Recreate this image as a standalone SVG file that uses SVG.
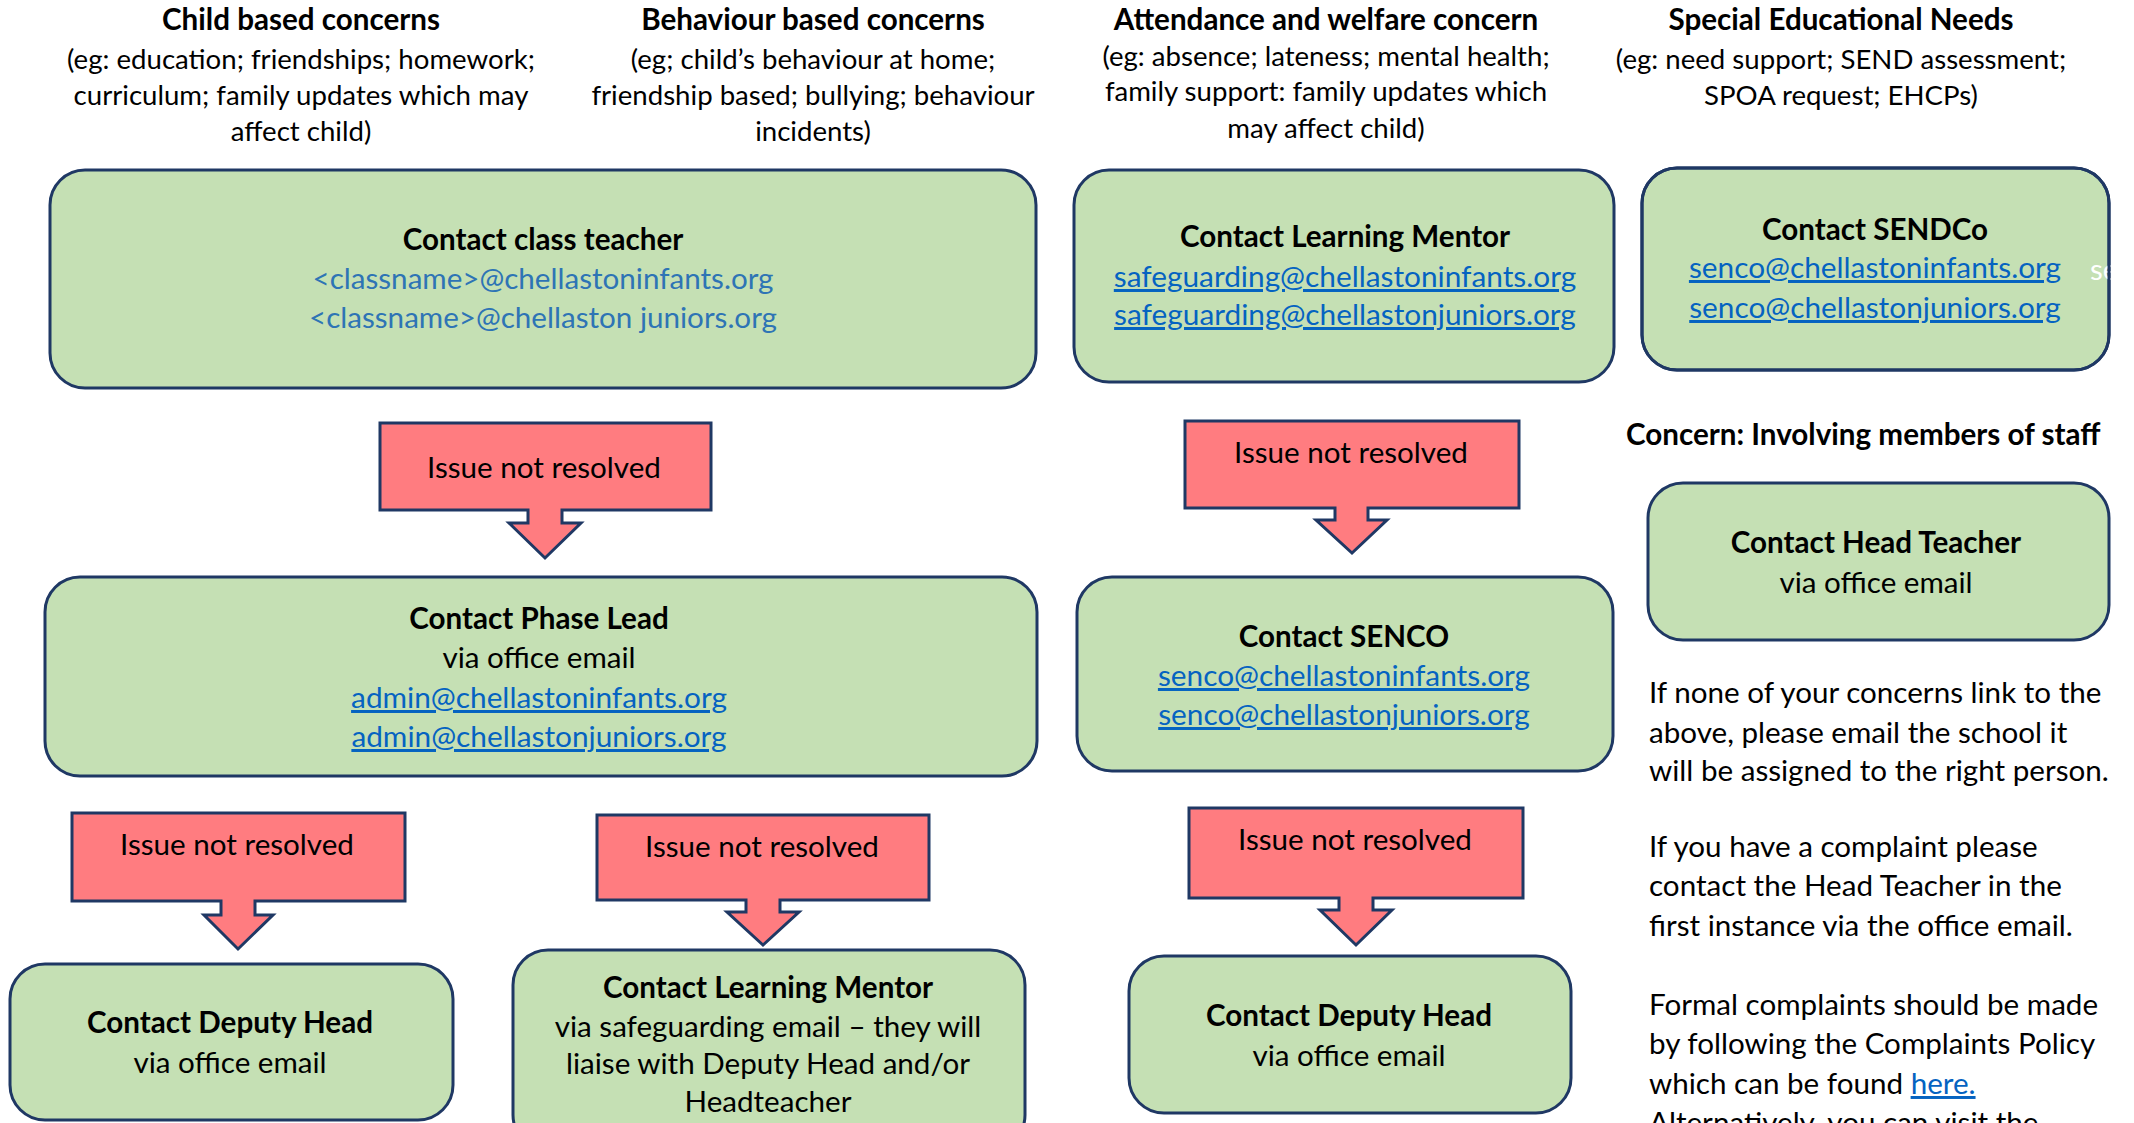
<svg xmlns="http://www.w3.org/2000/svg" width="2134" height="1123" viewBox="0 0 2134 1123">
<style>
text{font-family:Lato,"Liberation Sans",sans-serif;fill:#000}
.h{font-size:29.6px;font-weight:bold;text-anchor:middle}
.d{font-size:27.6px;text-anchor:middle}
.t{font-size:29.6px;text-anchor:middle}
.b{font-size:29.6px;font-weight:bold;text-anchor:middle}
.l{font-size:29.8px;text-anchor:middle;fill:#0563C1;text-decoration:underline}
.c{font-size:29.6px;text-anchor:middle;fill:#2E74B5}
.p{font-size:29.6px}
.box{fill:#C5E0B4;stroke:#1F3864;stroke-width:3}
.arr{fill:#FF7C80;stroke:#1F3864;stroke-width:3;stroke-linejoin:miter}
</style>
<rect width="2134" height="1123" fill="#fff"/>
<g id="headers">
<text class="h" x="301" y="30">Child based concerns</text>
<text class="d" x="301" y="69">(eg: education; friendships; homework;</text>
<text class="d" x="301" y="105">curriculum; family updates which may</text>
<text class="d" x="301" y="141">affect child)</text>
<text class="h" x="813" y="30">Behaviour based concerns</text>
<text class="d" x="813" y="69">(eg; child’s behaviour at home;</text>
<text class="d" x="813" y="105">friendship based; bullying; behaviour</text>
<text class="d" x="813" y="141">incidents)</text>
<text class="h" x="1326" y="30">Attendance and welfare concern</text>
<text class="d" x="1326" y="66">(eg: absence; lateness; mental health;</text>
<text class="d" x="1326" y="101">family support: family updates which</text>
<text class="d" x="1326" y="138">may affect child)</text>
<text class="h" x="1841" y="30">Special Educational Needs</text>
<text class="d" x="1841" y="69">(eg: need support; SEND assessment;</text>
<text class="d" x="1841" y="105">SPOA request; EHCPs)</text>
<text class="p" x="1626" y="445" font-weight="bold">Concern: Involving members of staff</text>
</g>
<g id="n-class-teacher">
<rect class="box" x="50" y="170" width="986" height="218" rx="35"/>
<text class="b" x="543" y="250">Contact class teacher</text>
<text class="c" x="543" y="289">&lt;classname&gt;@chellastoninfants.org</text>
<text class="c" x="543" y="328">&lt;classname&gt;@chellaston juniors.org</text>
</g>
<g id="n-learning-mentor-1">
<rect class="box" x="1074" y="170" width="540" height="212" rx="35"/>
<text class="b" x="1345" y="247">Contact Learning Mentor</text>
<text class="l" x="1345" y="287">safeguarding@chellastoninfants.org</text>
<text class="l" x="1345" y="325">safeguarding@chellastonjuniors.org</text>
</g>
<g id="n-sendco">
<rect class="box" x="1642" y="168" width="467" height="202" rx="35"/>
<text class="b" x="1875" y="240">Contact SENDCo</text>
<text class="l" x="1875" y="278">senco@chellastoninfants.org</text>
<text class="l" x="1875" y="318">senco@chellastonjuniors.org</text>
<text class="p" x="2090" y="280" style="fill:#fff">se</text>
<rect x="1642" y="168" width="467" height="202" rx="35" fill="none" stroke="#1F3864" stroke-width="3"/>
</g>
<g id="n-phase-lead">
<rect class="box" x="45" y="577" width="992" height="199" rx="35"/>
<text class="b" x="539" y="629">Contact Phase Lead</text>
<text class="t" x="539" y="668">via office email</text>
<text class="l" x="539" y="708">admin@chellastoninfants.org</text>
<text class="l" x="539" y="747">admin@chellastonjuniors.org</text>
</g>
<g id="n-senco">
<rect class="box" x="1077" y="577" width="536" height="194" rx="35"/>
<text class="b" x="1344" y="647">Contact SENCO</text>
<text class="l" x="1344" y="686">senco@chellastoninfants.org</text>
<text class="l" x="1344" y="725">senco@chellastonjuniors.org</text>
</g>
<g id="n-head-teacher">
<rect class="box" x="1648" y="483" width="461" height="157" rx="35"/>
<text class="b" x="1876" y="553">Contact Head Teacher</text>
<text class="t" x="1876" y="593">via office email</text>
</g>
<g id="n-deputy-head-1">
<rect class="box" x="10" y="964" width="443" height="156" rx="35"/>
<text class="b" x="230" y="1033">Contact Deputy Head</text>
<text class="t" x="230" y="1073">via office email</text>
</g>
<g id="n-learning-mentor-2">
<rect class="box" x="513" y="950" width="512" height="200" rx="35"/>
<text class="b" x="768" y="998">Contact Learning Mentor</text>
<text class="t" x="768" y="1037">via safeguarding email – they will</text>
<text class="t" x="768" y="1074">liaise with Deputy Head and/or</text>
<text class="t" x="768" y="1112">Headteacher</text>
</g>
<g id="n-deputy-head-2">
<rect class="box" x="1129" y="956" width="442" height="157" rx="35"/>
<text class="b" x="1349" y="1026">Contact Deputy Head</text>
<text class="t" x="1349" y="1066">via office email</text>
</g>
<g id="connectors">
<g id="a1">
<path class="arr" d="M380,423 H711 V510 H562 V523 H581 L545,558 L509,523 H528 V510 H380 Z"/>
<text class="t" x="544" y="478">Issue not resolved</text>
</g>
<g id="a2">
<path class="arr" d="M1185,421 H1519 V508 H1368 V520 H1387 L1352,553 L1316,520 H1335 V508 H1185 Z"/>
<text class="t" x="1351" y="463">Issue not resolved</text>
</g>
<g id="a3">
<path class="arr" d="M72,813 H405 V901 H255 V915 H273 L238,949 L204,915 H221 V901 H72 Z"/>
<text class="t" x="237" y="855">Issue not resolved</text>
</g>
<g id="a4">
<path class="arr" d="M597,815 H929 V900 H780 V912 H799 L763,945 L727,912 H746 V900 H597 Z"/>
<text class="t" x="762" y="857">Issue not resolved</text>
</g>
<g id="a5">
<path class="arr" d="M1189,808 H1523 V898 H1373 V910 H1392 L1356,945 L1320,910 H1339 V898 H1189 Z"/>
<text class="t" x="1355" y="850">Issue not resolved</text>
</g>
</g>
<g id="notes">
<text class="p" x="1649" y="703">If none of your concerns link to the</text>
<text class="p" x="1649" y="743">above, please email the school it</text>
<text class="p" x="1649" y="781">will be assigned to the right person.</text>
<text class="p" x="1649" y="857">If you have a complaint please</text>
<text class="p" x="1649" y="896">contact the Head Teacher in the</text>
<text class="p" x="1649" y="936">first instance via the office email.</text>
<text class="p" x="1649" y="1015">Formal complaints should be made</text>
<text class="p" x="1649" y="1054">by following the Complaints Policy</text>
<text class="p" x="1649" y="1094">which can be found <tspan style="fill:#0563C1;text-decoration:underline">here.</tspan></text>
<text class="p" x="1649" y="1133">Alternatively, you can visit the</text>
</g>
</svg>
